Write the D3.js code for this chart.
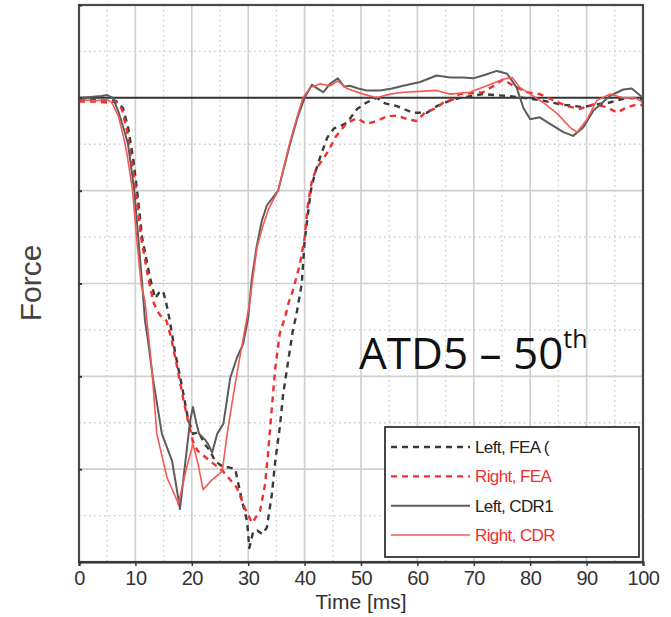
<!DOCTYPE html>
<html>
<head>
<meta charset="utf-8">
<script src="https://cdn.jsdelivr.net/npm/d3@7"></script>
<style>
    body { margin: 0; background: #fff; }
    svg { display: block; }
</style>
</head>
<body>
<div id="chart"></div>
<script>
// x ticks (ms) and force grid levels (no labels on the force axis)
const timeTicks = [0, 10, 20, 30, 40, 50, 60, 70, 80, 90, 100];
const forceTicks = [-5, -4, -3, -2, -1, 0, 1];

// [time ms, force]
const leftFea = [[0,-0.02],[3,-0.02],[5,-0.03],[6.5,-0.03],[7.8,-0.11],[8.7,-0.32],[9.6,-0.65],[10.3,-1.0],[11.2,-1.51],[12.6,-1.94],[13.5,-2.16],[14.2,-2.1],[14.9,-2.08],[15.5,-2.22],[16.1,-2.4],[17,-2.73],[18.3,-3.12],[19.3,-3.45],[20.2,-3.62],[21.2,-3.6],[22.3,-3.73],[23.2,-3.8],[24.1,-3.91],[25.6,-3.98],[26.6,-3.98],[27.7,-4.0],[28.9,-4.34],[29.8,-4.56],[30.2,-4.85],[30.9,-4.67],[31.6,-4.66],[32.5,-4.7],[33.3,-4.63],[34.2,-4.27],[34.8,-3.91],[35.6,-3.55],[36.2,-3.19],[37.1,-2.83],[37.9,-2.51],[38.5,-2.35],[39.5,-2.0],[40,-1.54],[40.6,-1.25],[41.1,-1.0],[41.8,-0.82],[42.7,-0.65],[44,-0.43],[45.2,-0.33],[46.5,-0.3],[47.5,-0.27],[49.3,-0.12],[51,-0.05],[52.8,0],[54.3,-0.06],[56.4,-0.09],[59.2,-0.16],[61.7,-0.16],[63.4,-0.09],[65.8,-0.03],[67.6,0],[71.6,0.04],[75.9,0.02],[78.8,0],[82.3,-0.03],[85.3,-0.07],[89.4,-0.1],[91.8,-0.07],[94.1,-0.05],[96.5,-0.01],[98.9,0],[100,-0.02]];

const rightFea = [[0,-0.04],[3,-0.04],[5,-0.05],[6.5,-0.04],[7.6,-0.12],[8.5,-0.35],[9.4,-0.7],[10.1,-1.0],[11,-1.5],[12.3,-1.95],[13.2,-2.2],[13.8,-2.29],[14.5,-2.35],[15.5,-2.4],[16.4,-2.6],[17.4,-2.9],[18.5,-3.25],[19.4,-3.5],[20.2,-3.7],[21,-3.8],[23.2,-3.91],[25.5,-4.02],[28,-4.2],[29.4,-4.42],[30.7,-4.58],[32.1,-4.45],[33,-4.16],[33.5,-3.84],[33.9,-3.55],[34.4,-3.19],[34.8,-2.91],[35.6,-2.54],[36.5,-2.37],[37.2,-2.2],[37.9,-2.08],[38.7,-1.9],[39.2,-1.78],[40,-1.51],[40.6,-1.14],[41.3,-0.89],[42.2,-0.75],[43.3,-0.66],[44.5,-0.54],[45.5,-0.42],[47.5,-0.27],[49.3,-0.22],[51,-0.28],[52.8,-0.25],[54.6,-0.2],[56.4,-0.19],[58.2,-0.23],[59.9,-0.25],[61.3,-0.16],[63.4,-0.11],[64.6,-0.05],[66.7,-0.01],[67.4,0.04],[71.6,0.06],[74.1,0.15],[75.2,0.2],[77,0.13],[79.4,0.06],[81.7,0.04],[83.5,-0.01],[86.5,-0.09],[88.8,-0.12],[91.2,-0.07],[93.6,-0.1],[95.4,-0.16],[97.2,-0.1],[99.1,-0.07],[100,-0.08]];

const leftCdr = [[0,0],[2,0.01],[4,0.02],[5,0.03],[6,0],[7,-0.15],[8,-0.35],[8.7,-0.5],[9.8,-1.0],[10.5,-1.5],[11.2,-2.0],[11.7,-2.4],[12.2,-2.6],[13.1,-3.02],[14.7,-3.62],[16.5,-3.91],[17.3,-4.2],[17.9,-4.43],[18.8,-3.95],[19.7,-3.48],[20.2,-3.33],[20.8,-3.5],[21.3,-3.62],[22.3,-3.68],[22.9,-3.73],[23.6,-3.82],[24.5,-3.62],[25.6,-3.51],[26.2,-3.27],[26.8,-3.02],[28,-2.8],[29.1,-2.65],[30,-2.37],[30.6,-1.97],[31.5,-1.6],[32.4,-1.33],[33.3,-1.16],[35.3,-1.0],[37.4,-0.5],[38.8,-0.2],[40,0],[41.3,0.14],[42.3,0.1],[43.3,0.06],[44.5,0.15],[45.9,0.21],[47,0.12],[48,0.13],[49.5,0.1],[51,0.08],[53.4,0.08],[55.5,0.1],[57.5,0.13],[60.5,0.17],[63.4,0.24],[65.8,0.22],[68,0.22],[69.9,0.21],[71.6,0.24],[74.1,0.29],[75.9,0.26],[77.6,0.11],[78.8,-0.11],[80,-0.23],[81.7,-0.21],[83.5,-0.28],[85.9,-0.37],[87.6,-0.41],[89.4,-0.32],[91.2,-0.14],[94.1,0.02],[96.5,0.09],[98,0.1],[100,0.0]];

const rightCdr = [[0,-0.02],[3,-0.03],[5,-0.02],[5.8,-0.05],[7,-0.2],[8,-0.45],[8.5,-0.6],[9.5,-1.0],[10.2,-1.5],[11,-2.0],[11.7,-2.19],[12.9,-2.91],[13.8,-3.62],[15.6,-4.09],[17.4,-4.34],[17.6,-4.38],[19.1,-3.98],[20.2,-3.73],[21.1,-3.94],[22,-4.22],[23.5,-4.12],[25.4,-4.02],[26.2,-3.65],[27.1,-3.3],[28.2,-2.9],[29.4,-2.5],[30.3,-2.19],[30.8,-1.95],[31.6,-1.6],[32.6,-1.38],[33.6,-1.2],[35.3,-1.0],[37.3,-0.5],[38.7,-0.2],[39.7,0],[41,0.11],[42.7,0.15],[44.5,0.13],[45.9,0.18],[47.5,0.1],[50.4,0.04],[52.8,0],[55.1,0.04],[57.5,0.06],[60.5,0.07],[63.4,0.08],[65.8,0.04],[69.3,0.06],[72.3,0.13],[75.2,0.2],[76.8,0.22],[78.2,0.11],[80,0.04],[82.3,-0.05],[84.8,-0.17],[87.1,-0.32],[88.3,-0.37],[90.1,-0.23],[91.8,-0.03],[94.1,0.04],[96.5,0],[98.6,0],[100,-0.05]];

const seriesNames = ['Left, FEA (', 'Right, FEA', 'Left, CDR1', 'Right, CDR'];

// series styling
const series = [
    { name: seriesNames[0], data: leftFea, color: '#3a3a3a', text: '#222', dash: '6,5', width: 2.4 },
    { name: seriesNames[1], data: rightFea, color: '#f0302e', text: '#f0302e', dash: '6,5', width: 2.4 },
    { name: seriesNames[2], data: leftCdr, color: '#5c5c5c', text: '#222', dash: null, width: 2 },
    { name: seriesNames[3], data: rightCdr, color: '#f25a58', text: '#f0302e', dash: null, width: 1.6 }
];

const W = 671, H = 617;
const plot = { left: 79, right: 643, top: 5, bottom: 562 };
const sans = '"Liberation Sans", Arial, sans-serif';

const svg = d3.select('#chart').append('svg')
    .attr('width', W)
    .attr('height', H);

const x = d3.scaleLinear().domain([0, 100]).range([plot.left, plot.right]);
const y = d3.scaleLinear().domain([-5, 1]).range([plot.bottom, plot.top]);

// grid: dotted halves first, solid majors on top
const halfT = d3.range(5, 100, 10);
const halfF = d3.range(-4.5, 1, 1);

svg.append('g').selectAll('line')
    .data(halfT)
    .enter().append('line')
    .attr('x1', d => x(d)).attr('x2', d => x(d))
    .attr('y1', plot.top).attr('y2', plot.bottom)
    .attr('stroke', '#c8c8c8')
    .attr('stroke-width', 1.3)
    .attr('stroke-dasharray', '1.5,3.5');

svg.append('g').selectAll('line')
    .data(halfF)
    .enter().append('line')
    .attr('x1', plot.left).attr('x2', plot.right)
    .attr('y1', d => y(d)).attr('y2', d => y(d))
    .attr('stroke', '#c8c8c8')
    .attr('stroke-width', 1.3)
    .attr('stroke-dasharray', '1.5,3.5');

svg.append('g').selectAll('line')
    .data(timeTicks.slice(1, -1))
    .enter().append('line')
    .attr('x1', d => x(d)).attr('x2', d => x(d))
    .attr('y1', plot.top).attr('y2', plot.bottom)
    .attr('stroke', '#cfcfcf')
    .attr('stroke-width', 1.6);

svg.append('g').selectAll('line')
    .data(forceTicks.filter(d => d > -5 && d < 1 && d !== 0))
    .enter().append('line')
    .attr('x1', plot.left).attr('x2', plot.right)
    .attr('y1', d => y(d)).attr('y2', d => y(d))
    .attr('stroke', '#cfcfcf')
    .attr('stroke-width', 1.6);

// zero line
svg.append('line')
    .attr('x1', plot.left).attr('x2', plot.right)
    .attr('y1', y(0)).attr('y2', y(0))
    .attr('stroke', '#333')
    .attr('stroke-width', 2);

// curves
const line = d3.line()
    .x(d => x(d[0]))
    .y(d => y(d[1]))
    .curve(d3.curveLinear);

svg.append('g').selectAll('path')
    .data(series)
    .enter().append('path')
    .attr('d', d => line(d.data))
    .attr('fill', 'none')
    .attr('stroke', d => d.color)
    .attr('stroke-width', d => d.width)
    .attr('stroke-dasharray', d => d.dash)
    .attr('stroke-linejoin', 'round');

// frame
svg.append('rect')
    .attr('x', plot.left).attr('y', plot.top)
    .attr('width', plot.right - plot.left)
    .attr('height', plot.bottom - plot.top)
    .attr('fill', 'none')
    .attr('stroke', '#4a4a4a')
    .attr('stroke-width', 2.2);

// axes
const xAxis = svg.append('g')
    .attr('transform', `translate(0,${plot.bottom})`)
    .call(d3.axisBottom(x).tickValues(timeTicks).tickSize(4).tickPadding(5));
xAxis.select('.domain').attr('stroke', '#333').attr('stroke-width', 2.2);
xAxis.selectAll('.tick line').attr('stroke', '#333').attr('stroke-width', 1.5);
xAxis.selectAll('text')
    .attr('fill', '#333')
    .style('font-family', sans)
    .style('font-size', '20px')
    .style('letter-spacing', '-0.5px');

const yAxis = svg.append('g')
    .attr('transform', `translate(${plot.left},0)`)
    .call(d3.axisLeft(y).tickValues(forceTicks).tickSize(-3).tickFormat(''));
yAxis.select('.domain').remove();
yAxis.selectAll('.tick line').attr('stroke', '#333').attr('stroke-width', 2);

// axis titles
svg.append('text')
    .attr('x', 361)
    .attr('y', 609)
    .attr('text-anchor', 'middle')
    .attr('fill', '#333')
    .style('font-family', sans)
    .style('font-size', '21px')
    .text('Time [ms]');

svg.append('text')
    .attr('transform', 'translate(41,283) rotate(-90)')
    .attr('text-anchor', 'middle')
    .attr('fill', '#444')
    .style('font-family', sans)
    .style('font-size', '30px')
    .text('Force');

// annotation
const note = svg.append('text')
    .attr('x', 359)
    .attr('y', 369)
    .attr('fill', '#111')
    .style('font-family', '"Open Sans", "Noto Sans", sans-serif')
    .style('font-size', '44px');
note.append('tspan').text('ATD5 \u2013 50');
note.append('tspan')
    .attr('dy', -21)
    .style('font-size', '25px')
    .text('th');

// legend
const legend = svg.append('g');
legend.append('rect')
    .attr('x', 385).attr('y', 427)
    .attr('width', 254).attr('height', 130)
    .attr('fill', '#fff')
    .attr('stroke', '#333')
    .attr('stroke-width', 1.8);

svg.append('clipPath')
    .attr('id', 'legendClip')
    .append('rect')
    .attr('x', 385).attr('y', 427)
    .attr('width', 172).attr('height', 130);

const rowY = d3.scalePoint().domain(seriesNames).range([447, 535]);

const rows = legend.append('g')
    .attr('clip-path', 'url(#legendClip)')
    .selectAll('.row')
    .data(series)
    .enter().append('g')
    .attr('class', 'row')
    .attr('transform', d => `translate(0,${rowY(d.name)})`);

rows.append('line')
    .attr('x1', 391).attr('x2', 470)
    .attr('stroke', d => d.color)
    .attr('stroke-width', d => d.width)
    .attr('stroke-dasharray', d => d.dash);

rows.append('text')
    .attr('x', 475)
    .attr('y', 6)
    .attr('fill', d => d.text)
    .style('font-family', sans)
    .style('font-size', '17px')
    .style('letter-spacing', '-0.6px')
    .text(d => d.name);
</script>
</body>
</html>
